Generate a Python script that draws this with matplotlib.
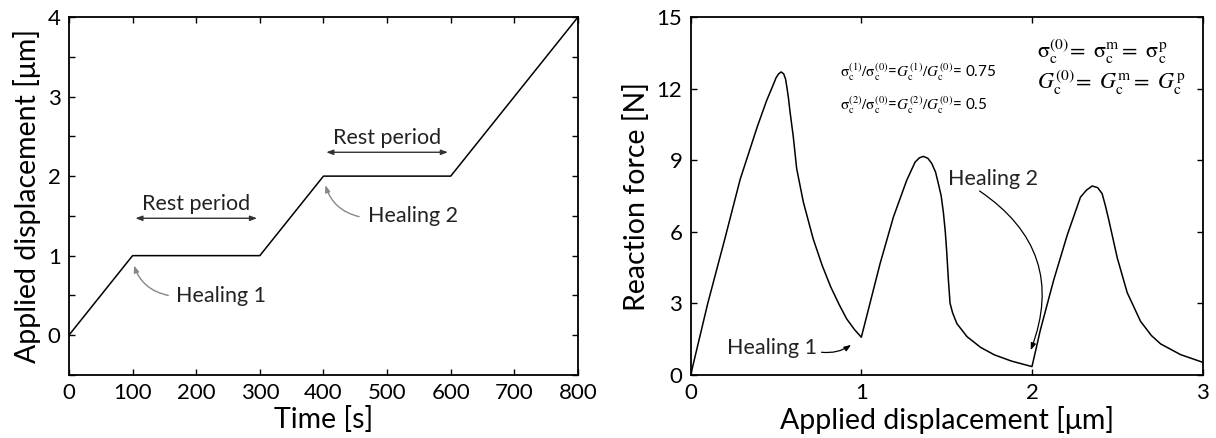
import matplotlib.pyplot as plt

plt.rcParams['font.family'] = ['Lato', 'DejaVu Sans']
plt.rcParams['mathtext.fontset'] = 'stix'

# left panel: loading history
time_s = [0, 100, 300, 400, 600, 800]
disp_um = [0, 1, 1, 2, 2, 4]

# right panel: force vs displacement
u_um = [0.0, 0.10, 0.20, 0.29, 0.34, 0.39, 0.445, 0.483, 0.50, 0.515, 0.53,
        0.545, 0.556, 0.565, 0.573, 0.581, 0.59, 0.601, 0.621, 0.66, 0.718,
        0.77, 0.82, 0.87, 0.914, 0.96, 1.0,
        1.11, 1.188, 1.266, 1.315, 1.34, 1.364, 1.39, 1.413, 1.435, 1.452,
        1.468, 1.481, 1.492, 1.50, 1.51, 1.52, 1.535, 1.56, 1.62, 1.70, 1.78,
        1.88, 2.0,
        2.049, 2.127, 2.206, 2.284, 2.32, 2.353, 2.385, 2.411, 2.43, 2.45,
        2.475, 2.50, 2.558, 2.636, 2.70, 2.754, 2.871, 2.94, 3.0]
force_N = [0.0, 3.0, 5.7, 8.2, 9.3, 10.4, 11.5, 12.15, 12.45, 12.62, 12.7,
           12.62, 12.4, 12.0, 11.6, 11.1, 10.6, 10.0, 8.65, 7.25, 5.7,
           4.6, 3.7, 2.95, 2.35, 1.9, 1.58,
           4.67, 6.62, 8.16, 8.92, 9.1, 9.16, 9.08, 8.86, 8.5, 8.0,
           7.5, 6.8, 6.0, 5.2, 4.0, 3.0, 2.6, 2.15, 1.6, 1.15, 0.84,
           0.58, 0.35,
           1.88, 3.97, 5.85, 7.45, 7.75, 7.92, 7.85, 7.6, 7.1, 6.5,
           5.7, 4.9, 3.45, 2.25, 1.65, 1.3, 0.85, 0.68, 0.53]

fig = plt.figure(figsize=(12.16, 4.38), dpi=100)
ax1 = fig.add_axes([0.0567, 0.144, 0.4186, 0.817])
ax2 = fig.add_axes([0.568, 0.144, 0.421, 0.817])

for ax in (ax1, ax2):
    ax.tick_params(direction='in', top=True, right=True, length=4, width=1,
                   labelsize=16, pad=6)
    ax.tick_params(which='minor', direction='in', top=True, right=True,
                   length=4, width=1)
    for s in ax.spines.values():
        s.set_linewidth(1.3)

txt = dict(fontsize=15.5, color='#222222')

# ---- left ----
ax1.plot(time_s, disp_um, color='black', lw=1.1)
ax1.set_xlim(0, 800)
ax1.set_ylim(-0.5, 4)
ax1.set_xticks(range(0, 801, 100))
ax1.set_yticks([0, 1, 2, 3, 4])
ax1.set_yticks([-0.5, 0.5, 1.5, 2.5, 3.5], minor=True)
ax1.set_xlabel('Time [s]', fontsize=20.5, labelpad=2)
ax1.set_ylabel('Applied displacement [μm]', fontsize=20.5, labelpad=5)

arr = dict(arrowstyle='<|-|>,head_length=0.4,head_width=0.15', color='#333333', lw=1)
ax1.annotate('', xy=(100, 1.47), xytext=(300, 1.47), arrowprops=arr)
ax1.text(200, 1.57, 'Rest period', ha='center', va='baseline', **txt)
ax1.annotate('', xy=(400, 2.3), xytext=(600, 2.3), arrowprops=arr)
ax1.text(500, 2.4, 'Rest period', ha='center', va='baseline', **txt)

garr = dict(arrowstyle='-|>,head_length=0.4,head_width=0.15', color='#888888', lw=1,
            connectionstyle='arc3,rad=-0.3', shrinkA=0, shrinkB=2)
ax1.annotate('', xy=(101, 0.91), xytext=(156, 0.5), arrowprops=garr)
ax1.text(169, 0.42, 'Healing 1', ha='left', va='baseline', **txt)
ax1.annotate('', xy=(402, 1.92), xytext=(456, 1.49), arrowprops=garr)
ax1.text(470, 1.42, 'Healing 2', ha='left', va='baseline', **txt)

# ---- right ----
ax2.plot(u_um, force_N, color='black', lw=1.1)
ax2.set_xlim(0, 3)
ax2.set_ylim(0, 15)
ax2.set_xticks([0, 1, 2, 3])
ax2.set_yticks([0, 3, 6, 9, 12, 15])
ax2.set_xlabel('Applied displacement [μm]', fontsize=20.5, labelpad=2)
ax2.set_ylabel('Reaction force [N]', fontsize=20.5, labelpad=5)

barr = dict(arrowstyle='-|>,head_length=0.4,head_width=0.15', color='black', lw=0.9,
            shrinkA=0, shrinkB=2)
ax2.annotate('', xy=(0.953, 1.33), xytext=(0.767, 0.95),
             arrowprops=dict(barr, connectionstyle='arc3,rad=0.2'))
ax2.text(0.21, 0.88, 'Healing 1', ha='left', va='baseline', **txt)
ax2.annotate('', xy=(1.987, 0.93), xytext=(1.693, 7.71),
             arrowprops=dict(barr, connectionstyle='arc3,rad=-0.4'))
ax2.text(1.505, 7.98, 'Healing 2', ha='left', va='baseline', **txt)

ax2.text(0.875, 12.69,
         r'$\mathrm{\sigma}_\mathrm{c}^{(1)}/\mathrm{\sigma}_\mathrm{c}^{(0)}$=$G_\mathrm{c}^{(1)}/G_\mathrm{c}^{(0)}$= 0.75',
         fontsize=11, va='center', ha='left')
ax2.text(0.875, 11.3,
         r'$\mathrm{\sigma}_\mathrm{c}^{(2)}/\mathrm{\sigma}_\mathrm{c}^{(0)}$=$G_\mathrm{c}^{(2)}/G_\mathrm{c}^{(0)}$= 0.5',
         fontsize=11, va='center', ha='left')
ax2.text(2.03, 13.55,
         r'$\mathrm{\sigma}_\mathrm{c}^{(0)}\!=\ \mathrm{\sigma}_\mathrm{c}^\mathrm{m}=\ \mathrm{\sigma}_\mathrm{c}^\mathrm{p}$',
         fontsize=16, va='center', ha='left')
ax2.text(2.03, 12.25,
         r'$G_\mathrm{c}^{(0)}\!=\ G_\mathrm{c}^\mathrm{m}=\ G_\mathrm{c}^\mathrm{p}$',
         fontsize=16, va='center', ha='left')

fig.savefig('out.png', dpi=100)
